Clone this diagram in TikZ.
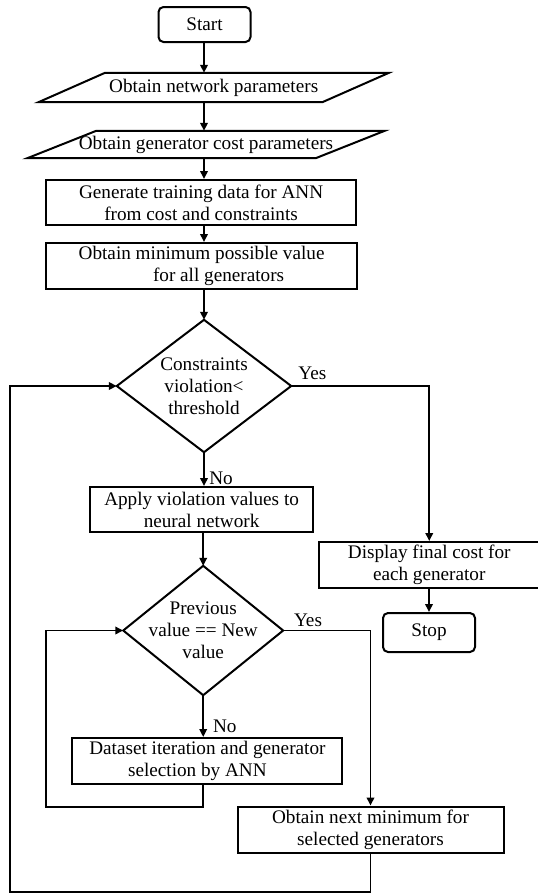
\documentclass[tikz,border=0pt]{standalone}
\usepackage{fontspec}
\setmainfont{Liberation Serif}
\usetikzlibrary{arrows.meta,calc}
\begin{document}
\begin{tikzpicture}[x=1pt,y=-1pt,
  every node/.style={font=\fontsize{19.2}{22}\selectfont, inner sep=0pt, align=center},
  line/.style={line width=2pt},
  arr/.style={line width=1.9pt,-{Triangle[length=8pt,width=7.5pt]}},
  box/.style={draw, line width=2pt, rectangle},
  term/.style={box, rounded corners=5pt},
  plain/.style={draw=none}
]
\useasboundingbox (0,0) rectangle (538,894);
\coordinate (col) at (204,0);

\node[term, minimum width=92pt, minimum height=35pt] (start) at (204.5,24.5) {Start};

\node[plain, minimum width=283.5pt, minimum height=29pt] (p1) at (213.7,87.5) {Obtain network parameters};
\draw[line] ([xshift=33.3pt]p1.north west) -- ([xshift=33.3pt]p1.north east) -- ([xshift=-33.3pt]p1.south east) -- ([xshift=-33.3pt]p1.south west) -- cycle;

\node[plain, minimum width=288pt, minimum height=27pt] (p2) at (206,144.5) {Obtain generator cost parameters};
\draw[line] ([xshift=34.5pt]p2.north west) -- ([xshift=34.5pt]p2.north east) -- ([xshift=-34.5pt]p2.south east) -- ([xshift=-34.5pt]p2.south west) -- cycle;

\node[box, minimum width=309.6pt, minimum height=45pt] (b3) at (201.1,202.5) {Generate training data for ANN\\from cost and constraints};
\node[box, minimum width=310.7pt, minimum height=46pt] (b4) at (201.6,266) {Obtain minimum possible value\\\hspace*{34pt}for all generators};

\node[plain, minimum width=174pt, minimum height=132pt] (d1) at (204,386) {Constraints\\violation<\\threshold};
\draw[line] (d1.north) -- (d1.east) -- (d1.south) -- (d1.west) -- cycle;

\node[box, minimum width=223.3pt, minimum height=45pt] (apply) at (201.6,509.5) {Apply violation values to\\neural network};
\node[box, minimum width=221.5pt, minimum height=46pt] (disp) at (429.25,565) {Display final cost for\\each generator};
\node[term, minimum width=92pt, minimum height=39pt] (stop) at (429,632.5) {Stop};

\node[plain, minimum width=159.5pt, minimum height=129pt] (d2) at (203.2,630.5) {Previous\\value == New\\value};
\draw[line] (d2.north) -- (d2.east) -- (d2.south) -- (d2.west) -- cycle;

\node[box, minimum width=270pt, minimum height=46pt] (data) at (207.4,761) {Dataset iteration and generator\\selection by ANN\hspace*{20pt}};
\node[box, minimum width=266pt, minimum height=46pt] (next) at (370.5,829.5) {Obtain next minimum for\\selected generators};

% connectors
\draw[arr] (col |- start.south) -- (col |- p1.north);
\draw[arr] (col |- p1.south) -- (col |- p2.north);
\draw[arr] (col |- p2.south) -- (col |- b3.north);
\draw[arr] (col |- b3.south) -- (col |- b4.north);
\draw[arr] (col |- b4.south) -- (d1.north);
\draw[arr] (d1.south) -- (d1.south |- apply.north);
\draw[arr] (d2.north |- apply.south) -- (d2.north);
\draw[arr] (d2.south) -- (d2.south |- data.north);
\draw[arr] (d1.east) -| (disp.north);
\draw[arr] (stop.north |- disp.south) -- (stop.north);
\draw[arr] (d2.east) -| (next.north);
\coordinate (l1) at (46.3,807.3);
\draw[arr] (d2.south |- data.south) |- (l1) |- (d2.west);
\coordinate (l2) at (10,892);
\draw[arr] (next.south) |- (l2) |- (d1.west);

% labels
\node (yes1) at (312.4,373) {Yes};
\node (no1) at (221,478) {No};
\node (yes2) at (308,620.7) {Yes};
\node (no2) at (224.8,726) {No};
\end{tikzpicture}
\end{document}
